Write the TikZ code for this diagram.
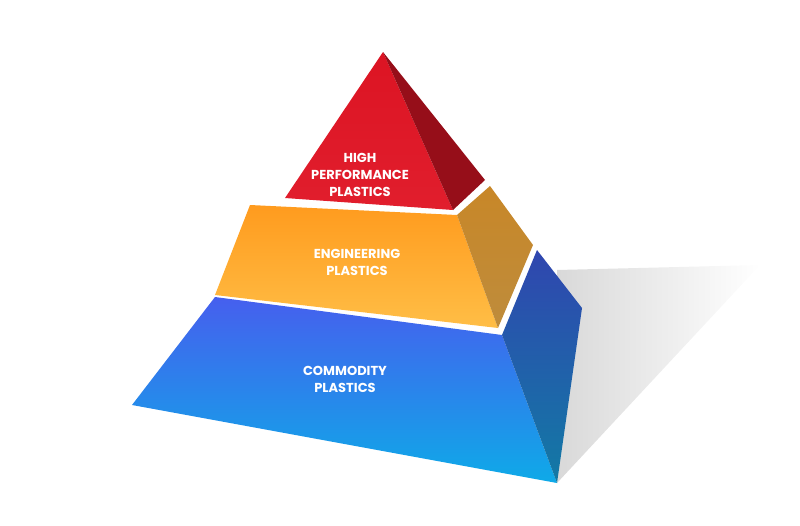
\documentclass[tikz,border=0pt]{standalone}
\usepackage{fontspec}
\setmainfont{Poppins}
\definecolor{bTop}{RGB}{70,95,238}
\definecolor{bBot}{RGB}{14,170,232}
\definecolor{bRTop}{RGB}{48,70,175}
\definecolor{bRBot}{RGB}{18,122,165}
\definecolor{oTop}{RGB}{255,155,30}
\definecolor{oBot}{RGB}{255,190,70}
\definecolor{oRTop}{RGB}{200,135,40}
\definecolor{oRBot}{RGB}{190,140,60}
\definecolor{rTop}{RGB}{220,20,35}
\definecolor{rBot}{RGB}{225,30,45}
\definecolor{rSide}{RGB}{150,14,25}
\begin{document}
\begin{tikzpicture}[x=1pt,y=-1pt,
 lbl/.style={text=white,font=\fontsize{13}{17}\selectfont\bfseries,align=center}]
\useasboundingbox (0,0) rectangle (800,525);
% shadow
\shade[left color=black!15,right color=white] (557,270) -- (760,265) -- (557,483) -- cycle;
% blue tier
\shade[top color=bTop, bottom color=bBot]
  (215,297) -- (502,335) -- (557,483) -- (132,405) -- cycle;
\shade[top color=bRTop, bottom color=bRBot]
  (502,335) -- (537,250) -- (582,308) -- (557,483) -- cycle;
% orange tier
\shade[top color=oTop, bottom color=oBot]
  (250,205) -- (457,215) -- (498,328) -- (215,295) -- cycle;
\shade[top color=oRTop, bottom color=oRBot]
  (457,215) -- (490,186) -- (533,245) -- (498,328) -- cycle;
% red tier
\shade[top color=rTop, bottom color=rBot]
  (383,52) -- (453,210) -- (285,198) -- cycle;
\fill[rSide] (383,52) -- (485,180) -- (453,210) -- cycle;
% labels
\node[lbl] (t1) at (360,175) {HIGH\\PERFORMANCE\\PLASTICS};
\node[lbl] (t2) at (357,262) {ENGINEERING\\PLASTICS};
\node[lbl] (t3) at (345,379) {COMMODITY\\PLASTICS};
\end{tikzpicture}
\end{document}
